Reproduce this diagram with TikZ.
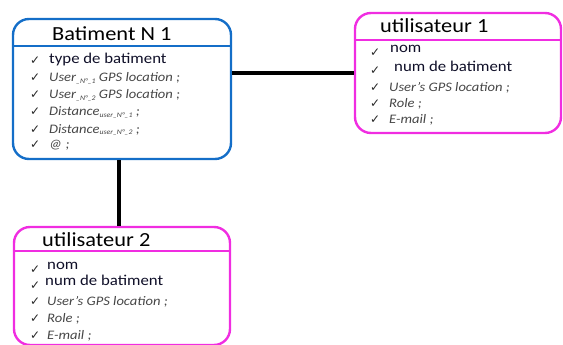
\documentclass[tikz,border=0pt]{standalone}
\usepackage{fontspec}
\setmainfont{Carlito}
\newfontfamily\hdfont[FakeStretch=1.12]{Carlito}
\newfontfamily\ckfont{DejaVu Sans}
\definecolor{blueC}{RGB}{20,110,200}
\definecolor{pinkC}{RGB}{240,45,225}
\definecolor{itemC}{RGB}{15,15,40}
\definecolor{grayC}{RGB}{70,70,70}
\definecolor{checkC}{RGB}{40,40,40}
\newcommand{\lowsub}[1]{\raisebox{-1.5pt}{\fontsize{7}{8}\selectfont #1}}

\begin{document}
\begin{tikzpicture}[x=1pt, y=-1pt,
  box/.style={rectangle, line width=2.4pt, rounded corners=16pt, inner sep=0pt},
  batbox/.style={box, draw=blueC},
  usrbox/.style={box, draw=pinkC},
  sepbat/.style={line width=2pt, draw=blueC},
  sepusr/.style={line width=2pt, draw=pinkC},
  conn/.style={line width=4pt, draw=black},
  hdr/.style={anchor=base west, inner sep=0pt, text=black, font=\hdfont\fontsize{20}{22}\selectfont},
  itm/.style={anchor=base west, inner sep=0pt, text=itemC, font=\hdfont\fontsize{15}{17}\selectfont},
  itl/.style={anchor=base west, inner sep=0pt, text=grayC, font=\hdfont\itshape\fontsize{13}{15}\selectfont},
  chk/.style={anchor=base west, inner sep=0pt, text=checkC, font=\ckfont\fontsize{12}{13}\selectfont}]
\useasboundingbox (0,0) rectangle (563,345);

% building entity
\node[batbox, minimum width=218pt, minimum height=140pt] (bat) at (122,89) {};
\draw[sepbat] (bat.west |- 0,46) -- (bat.east |- 0,46);
\node[hdr] (batT) at (52,41) {Batiment N 1};
\node[chk] (bc1) at (30,65) {✓};
\node[itm] (bi1) at (49,64) {type de batiment};
\node[chk] (bc2) at (30,82) {✓};
\node[itl] (bi2) at (49,82) {User\lowsub{\_N°\_1} GPS location ;};
\node[chk] (bc3) at (30,99) {✓};
\node[itl] (bi3) at (49,99) {User\lowsub{\_N°\_2} GPS location ;};
\node[chk] (bc4) at (30,116) {✓};
\node[itl] (bi4) at (49,116) {Distance\lowsub{user\_N°\_1} ;};
\node[chk] (bc5) at (30,133) {✓};
\node[itl] (bi5) at (49,133) {Distance\lowsub{user\_N°\_2} ;};
\node[chk] (bc6) at (30,149) {✓};
\node[itl] (bi6) at (49,149) {@ ;};

% user 1 entity
\node[usrbox, minimum width=206pt, minimum height=120pt] (u1) at (458,73) {};
\draw[sepusr] (u1.west |- 0,40) -- (u1.east |- 0,40);
\node[hdr] (u1T) at (380,33) {utilisateur 1};
\node[chk] (uc1) at (370,57) {✓};
\node[itm] (ui1) at (390,53) {nom};
\node[chk] (uc2) at (370,75) {✓};
\node[itm] (ui2) at (394,72) {num de batiment};
\node[chk] (uc3) at (370,92) {✓};
\node[itl] (ui3) at (389,92) {User’s GPS location ;};
\node[chk] (uc4) at (370,108) {✓};
\node[itl] (ui4) at (389,108) {Role ;};
\node[chk] (uc5) at (370,124) {✓};
\node[itl] (ui5) at (389,124) {E-mail ;};

% user 2 entity
\node[usrbox, minimum width=216pt, minimum height=118pt] (u2) at (122,286) {};
\draw[sepusr] (u2.west |- 0,251) -- (u2.east |- 0,251);
\node[hdr] (u2T) at (42,246) {utilisateur 2};
\node[chk] (vc1) at (30,273) {✓};
\node[itm] (vi1) at (47,269) {nom};
\node[chk] (vc2) at (30,289) {✓};
\node[itm] (vi2) at (45,285) {num de batiment};
\node[chk] (vc3) at (30,305) {✓};
\node[itl] (vi3) at (47,305) {User’s GPS location ;};
\node[chk] (vc4) at (30,322) {✓};
\node[itl] (vi4) at (47,322) {Role ;};
\node[chk] (vc5) at (30,339) {✓};
\node[itl] (vi5) at (47,339) {E-mail ;};

% links
\coordinate (hy) at (0,73);
\coordinate (vx) at (119,0);
\draw[conn] (bat.east |- hy) -- (u1.west |- hy);
\draw[conn] (vx |- bat.south) -- (vx |- u2.north);
\end{tikzpicture}
\end{document}
